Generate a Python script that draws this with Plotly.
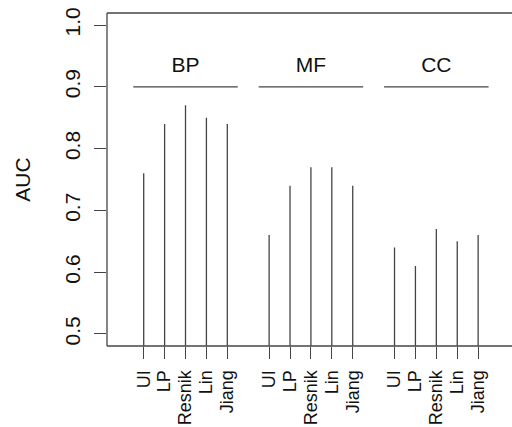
import plotly.graph_objects as go

# ---- data ----
methods = ["UI", "LP", "Resnik", "Lin", "Jiang"]
groups = ["BP", "MF", "CC"]
auc_bp = [0.76, 0.84, 0.87, 0.85, 0.84]
auc_mf = [0.66, 0.74, 0.77, 0.77, 0.74]
auc_cc = [0.64, 0.61, 0.67, 0.65, 0.66]
series = [auc_bp, auc_mf, auc_cc]
y_ticks = [0.5, 0.6, 0.7, 0.8, 0.9, 1.0]
group_line_y = 0.9
group_label_y = 0.933

FONT = "Liberation Sans, Arial, Helvetica, sans-serif"
FS = 21
LC = "#444444"
LW = 1.3

fig = go.Figure()

tick_pos, tick_text = [], []
for g, vals in enumerate(series):
    xs, ys = [], []
    for i, v in enumerate(vals):
        p = g * 6 + i + 1
        tick_pos.append(p)
        tick_text.append(methods[i])
        xs += [p, p, None]
        ys += [v, 0.3, None]
    fig.add_trace(go.Scatter(x=xs, y=ys, mode="lines",
                             line=dict(color=LC, width=LW),
                             hoverinfo="skip", showlegend=False))
    start, end = g * 6 + 1, g * 6 + len(vals)
    fig.add_trace(go.Scatter(x=[start - 0.5, end + 0.5], y=[group_line_y, group_line_y],
                             mode="lines", line=dict(color=LC, width=LW),
                             hoverinfo="skip", showlegend=False))
    fig.add_trace(go.Scatter(x=[(start + end) / 2], y=[group_label_y], mode="text",
                             text=[groups[g]], textposition="middle center",
                             textfont=dict(family=FONT, size=FS, color="#111"),
                             hoverinfo="skip", showlegend=False, cliponaxis=False))

fig.update_layout(
    width=512, height=427,
    margin=dict(l=107, r=0, t=13, b=81),
    plot_bgcolor="white", paper_bgcolor="white",
    font=dict(family=FONT, size=FS, color="#111"),
    xaxis=dict(range=[-0.756, 18.62], tickmode="array", tickvals=tick_pos,
               ticktext=tick_text, tickangle=-90, ticks="outside", ticklen=12,
               tickcolor=LC, tickwidth=LW, showgrid=False, zeroline=False,
               showline=False, ticklabelstandoff=4, automargin=False,
               tickfont=dict(family=FONT, size=18)),
    yaxis=dict(range=[0.4805, 1.0195], tickmode="array", tickvals=y_ticks,
               ticktext=[f"{t:.1f}" for t in y_ticks], tickangle=-90,
               ticks="outside", ticklen=12, tickcolor=LC, tickwidth=LW,
               showgrid=False, zeroline=False, showline=False,
               ticklabelstandoff=6, automargin=False,
               title=dict(text="AUC", standoff=24, font=dict(size=FS))),
    shapes=[
        dict(type="line", xref="paper", yref="paper", x0=0, x1=1.2, y0=1, y1=1,
             line=dict(color=LC, width=LW)),
        dict(type="line", xref="paper", yref="paper", x0=0, x1=1.2, y0=0, y1=0,
             line=dict(color=LC, width=LW)),
        dict(type="line", xref="paper", yref="paper", x0=0, x1=0, y0=0, y1=1,
             line=dict(color=LC, width=LW)),
    ],
)

fig.write_html("out.html")
